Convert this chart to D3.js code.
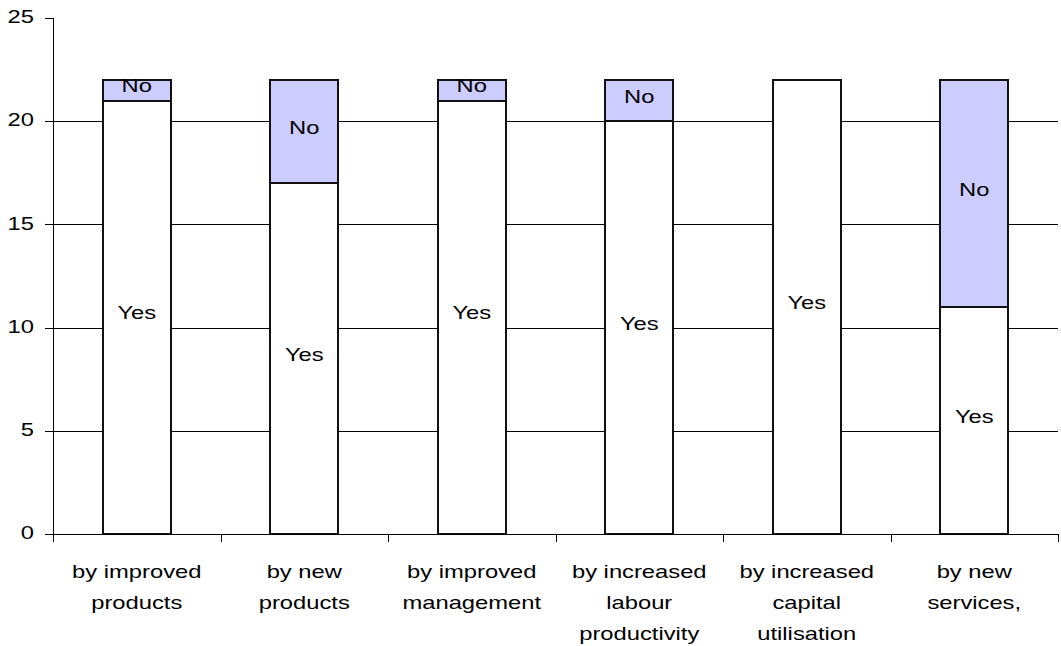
<!DOCTYPE html>
<html>
<head>
<meta charset="utf-8">
<script src="https://cdn.jsdelivr.net/npm/d3@7"></script>
<style>
  body { margin: 0; background: #fff; }
  text { font-family: "Liberation Sans", Arial, sans-serif; fill: #000; }
</style>
</head>
<body>
<svg id="chart" width="1061" height="646"></svg>
<script>
// data
var categories = [
    ["by improved", "products"],
    ["by new", "products"],
    ["by improved", "management"],
    ["by increased", "labour", "productivity"],
    ["by increased", "capital", "utilisation"],
    ["by new", "services,"]
];
var yesValues = [21, 17, 21, 20, 22, 11];
var noValues = [1, 5, 1, 2, 0, 11];
var seriesNames = ["Yes", "No"];
var yTicks = [0, 5, 10, 15, 20, 25];

// dimensions (the text in the original is a bit wide, so stretch it)
var plotLeft = 53, plotRight = 1058, plotTop = 18, plotBottom = 534;
var fontSize = 19, stretch = 1.25;

var svg = d3.select("#chart");

var x = d3.scaleBand()
    .domain(d3.range(categories.length))
    .range([plotLeft, plotRight])
    .paddingInner(0.594)
    .paddingOuter(0.297);

var y = d3.scaleLinear()
    .domain([0, 25])
    .range([plotBottom, plotTop]);

var step = x.step();

function place(px, py) {
    return "translate(" + px + "," + py + ") scale(" + stretch + ",1)";
}

// gridlines (not at 0 or 25)
svg.append("g")
    .selectAll("line")
    .data(yTicks.filter(function(d) { return d > 0 && d < 25; }))
    .enter()
    .append("line")
    .attr("x1", plotLeft)
    .attr("x2", plotRight)
    .attr("y1", function(d) { return Math.round(y(d)) + 0.5; })
    .attr("y2", function(d) { return Math.round(y(d)) + 0.5; })
    .attr("stroke", "#000")
    .attr("stroke-width", 1);

// stack the two series
var rows = yesValues.map(function(v, i) { return { Yes: v, No: noValues[i] }; });
var stacked = d3.stack().keys(seriesNames)(rows);
var color = d3.scaleOrdinal().domain(seriesNames).range(["#ffffff", "#ccccff"]);

var layers = svg.append("g")
    .selectAll("g")
    .data(stacked)
    .enter()
    .append("g")
    .attr("fill", function(d) { return color(d.key); });

layers.selectAll("rect")
    .data(function(d) { return d.filter(function(s) { return s[1] > s[0]; }); })
    .enter()
    .append("rect")
    .attr("x", function(d) { return Math.round(x(rows.indexOf(d.data))); })
    .attr("width", Math.round(x.bandwidth()))
    .attr("y", function(d) { return Math.round(y(d[1])); })
    .attr("height", function(d) { return Math.round(y(d[0])) - Math.round(y(d[1])); })
    .attr("stroke", "#111")
    .attr("stroke-width", 2);

// segment labels
var labels = svg.append("g");
stacked.forEach(function(layer) {
    layer.forEach(function(s, i) {
        if (s[1] <= s[0]) return;
        labels.append("text")
            .attr("transform", place(x(i) + x.bandwidth() / 2, (y(s[0]) + y(s[1])) / 2 - 4))
            .attr("text-anchor", "middle")
            .attr("dominant-baseline", "central")
            .attr("font-size", fontSize)
            .text(layer.key);
    });
});

// y axis
var yAxis = svg.append("g");
yAxis.append("line")
    .attr("x1", plotLeft + 0.5).attr("x2", plotLeft + 0.5)
    .attr("y1", plotTop).attr("y2", plotBottom)
    .attr("stroke", "#000");
yAxis.selectAll("line.tick")
    .data(yTicks)
    .enter()
    .append("line")
    .attr("class", "tick")
    .attr("x1", plotLeft - 8).attr("x2", plotLeft)
    .attr("y1", function(d) { return Math.round(y(d)) + 0.5; })
    .attr("y2", function(d) { return Math.round(y(d)) + 0.5; })
    .attr("stroke", "#000");
yAxis.selectAll("text")
    .data(yTicks)
    .enter()
    .append("text")
    .attr("transform", function(d) { return place(plotLeft - 19, y(d) - 1); })
    .attr("text-anchor", "end")
    .attr("dominant-baseline", "central")
    .attr("font-size", fontSize)
    .text(function(d) { return d; });

// x axis
var xAxis = svg.append("g");
xAxis.append("line")
    .attr("x1", plotLeft - 8).attr("x2", plotRight)
    .attr("y1", plotBottom + 0.5).attr("y2", plotBottom + 0.5)
    .attr("stroke", "#000");
xAxis.selectAll("line.tick")
    .data(d3.range(categories.length + 1))
    .enter()
    .append("line")
    .attr("class", "tick")
    .attr("x1", function(i) { return Math.round(plotLeft + i * step) + 0.5; })
    .attr("x2", function(i) { return Math.round(plotLeft + i * step) + 0.5; })
    .attr("y1", plotBottom).attr("y2", plotBottom + 8)
    .attr("stroke", "#000");

var catText = xAxis.selectAll("text")
    .data(categories)
    .enter()
    .append("text")
    .attr("transform", function(d, i) { return place(x(i) + x.bandwidth() / 2, 578); })
    .attr("text-anchor", "middle")
    .attr("font-size", fontSize);
catText.selectAll("tspan")
    .data(function(d) { return d; })
    .enter()
    .append("tspan")
    .attr("x", 0)
    .attr("y", function(d, j) { return j * 31; })
    .text(function(d) { return d; });
</script>
</body>
</html>
